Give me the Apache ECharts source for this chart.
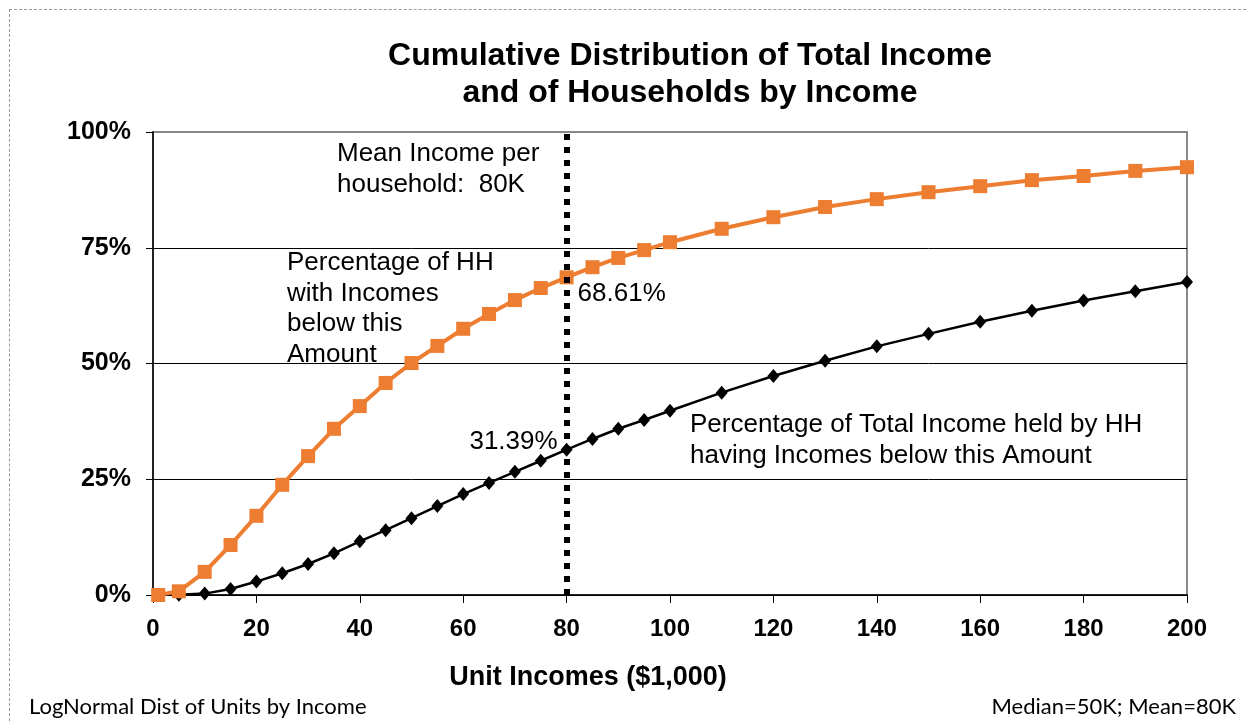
<!DOCTYPE html>
<html>
<head>
<meta charset="utf-8">
<title>Cumulative Distribution of Total Income</title>
<script src="https://cdn.jsdelivr.net/npm/echarts@6/dist/echarts.min.js"></script>
<style>
    html, body {
        margin: 0;
        padding: 0;
        background: #fff;
    }
    #chart {
        position: absolute;
        left: 0;
        top: 0;
        width: 1248px;
        height: 723px;
    }
    .frame {
        position: absolute;
        left: 9px;
        top: 9px;
        width: 1300px;
        height: 800px;
        border: 1px dashed #999;
        pointer-events: none;
    }
</style>
</head>
<body>
<div id="chart"></div>
<div class="frame"></div>
<script>
// unit incomes ($1,000)
const incomes = [1, 5, 10, 15, 20, 25, 30, 35, 40, 45, 50, 55, 60, 65, 70, 75, 80, 85, 90, 95, 100,
    110, 120, 130, 140, 150, 160, 170, 180, 190, 200];
// % of households with income below x
const hhPct = [0, 0.8, 5.0, 10.8, 17.1, 23.8, 30.0, 35.9, 40.8, 45.8, 50.1, 53.8, 57.5, 60.7, 63.7, 66.3, 68.61, 70.8, 72.8, 74.5, 76.2,
    79.1, 81.6, 83.8, 85.5, 87.0, 88.3, 89.6, 90.5, 91.6, 92.4];
// % of total income held by households below x
const incomePct = [0, 0.05, 0.3, 1.3, 2.9, 4.7, 6.7, 9.0, 11.6, 14.0, 16.6, 19.2, 21.8, 24.2, 26.6, 29.0, 31.39, 33.7, 35.9, 37.8, 39.8,
    43.7, 47.3, 50.6, 53.7, 56.4, 59.0, 61.4, 63.6, 65.6, 67.6];
const meanIncome = 80;
const xTicks = [0, 20, 40, 60, 80, 100, 120, 140, 160, 180, 200];
const yTicks = [0, 25, 50, 75, 100];

const font = 'Liberation Sans, Arial, sans-serif';
const noteFont = '26px ' + font;

function toPoints(ys, label) {
    return incomes.map((x, i) => {
        const p = { value: [x, ys[i]] };
        if (x === meanIncome) {
            p.label = Object.assign({
                show: true,
                formatter: ys[i].toFixed(2) + '%',
                color: '#000',
                fontFamily: font,
                fontSize: 26
            }, label);
        }
        return p;
    });
}

const hhData = toPoints(hhPct, { position: 'right', offset: [-1, 16] });
const incData = toPoints(incomePct, { position: 'left', offset: [2, -8] });

const myChart = echarts.init(document.getElementById('chart'));

const option = {
    backgroundColor: 'transparent',
    animation: false,
    grid: {
        left: 153,
        right: 61,
        top: 132,
        bottom: 128,
        show: true,
        borderColor: '#888',
        borderWidth: 2
    },
    xAxis: {
        type: 'value',
        min: xTicks[0],
        max: xTicks[xTicks.length - 1],
        interval: xTicks[1] - xTicks[0],
        axisLine: { lineStyle: { color: '#000', width: 1.5 } },
        axisTick: { show: true, length: 8, lineStyle: { color: '#000' } },
        axisLabel: {
            margin: 22,
            color: '#000',
            fontFamily: font,
            fontWeight: 'bold',
            fontSize: 24
        },
        splitLine: { show: false }
    },
    yAxis: {
        type: 'value',
        min: yTicks[0],
        max: yTicks[yTicks.length - 1],
        interval: yTicks[1] - yTicks[0],
        axisLine: { show: true, lineStyle: { color: '#000', width: 1.5 } },
        axisTick: { show: true, length: 7, lineStyle: { color: '#000' } },
        axisLabel: {
            margin: 22,
            formatter: '{value}%',
            color: '#000',
            fontFamily: font,
            fontWeight: 'bold',
            fontSize: 25
        },
        splitLine: {
            show: true,
            lineStyle: { color: ['#000', '#000', '#000', '#000', '#888'], width: 1 }
        }
    },
    graphic: [
        {
            type: 'text',
            x: 690,
            y: 38,
            style: {
                text: 'Cumulative Distribution of Total Income\nand of Households by Income',
                textAlign: 'center',
                fill: '#000',
                font: 'bold 32px ' + font,
                lineHeight: 37
            }
        },
        {
            type: 'text',
            x: 588,
            y: 664,
            style: {
                text: 'Unit Incomes ($1,000)',
                textAlign: 'center',
                fill: '#000',
                font: 'bold 27px ' + font
            }
        },
        {
            type: 'text',
            x: 337,
            y: 138,
            style: {
                text: 'Mean Income per\nhousehold:  80K',
                fill: '#000',
                font: noteFont,
                lineHeight: 31
            }
        },
        {
            type: 'text',
            x: 287,
            y: 248,
            style: {
                text: 'Percentage of HH\nwith Incomes\nbelow this\nAmount',
                fill: '#000',
                font: noteFont,
                lineHeight: 30.5
            }
        },
        {
            type: 'text',
            x: 690,
            y: 409,
            style: {
                text: 'Percentage of Total Income held by HH\nhaving Incomes below this Amount',
                fill: '#000',
                font: noteFont,
                lineHeight: 31
            }
        },
        {
            type: 'text',
            x: 29,
            y: 696,
            style: {
                text: 'LogNormal Dist of Units by Income',
                fill: '#000',
                font: '22px Lato, sans-serif'
            }
        },
        {
            type: 'text',
            x: 1236,
            y: 696,
            style: {
                text: 'Median=50K; Mean=80K',
                textAlign: 'right',
                fill: '#000',
                font: '22px Lato, sans-serif'
            }
        }
    ],
    series: [
        {
            name: 'Percentage of HH with Incomes below this Amount',
            type: 'line',
            data: hhData,
            symbol: 'rect',
            symbolSize: 14,
            itemStyle: { color: '#ED7D31' },
            lineStyle: { color: '#ED7D31', width: 4 },
            z: 3
        },
        {
            name: 'Percentage of Total Income held by HH having Incomes below this Amount',
            type: 'line',
            data: incData,
            symbol: 'diamond',
            symbolSize: [12, 14],
            itemStyle: { color: '#000' },
            lineStyle: { color: '#000', width: 2.5 },
            z: 2,
            markLine: {
                silent: true,
                symbol: ['none', 'none'],
                label: { show: false },
                lineStyle: { color: '#000', type: [6, 7], width: 6 },
                data: [{ xAxis: meanIncome }]
            }
        }
    ]
};

myChart.setOption(option);
</script>
</body>
</html>
